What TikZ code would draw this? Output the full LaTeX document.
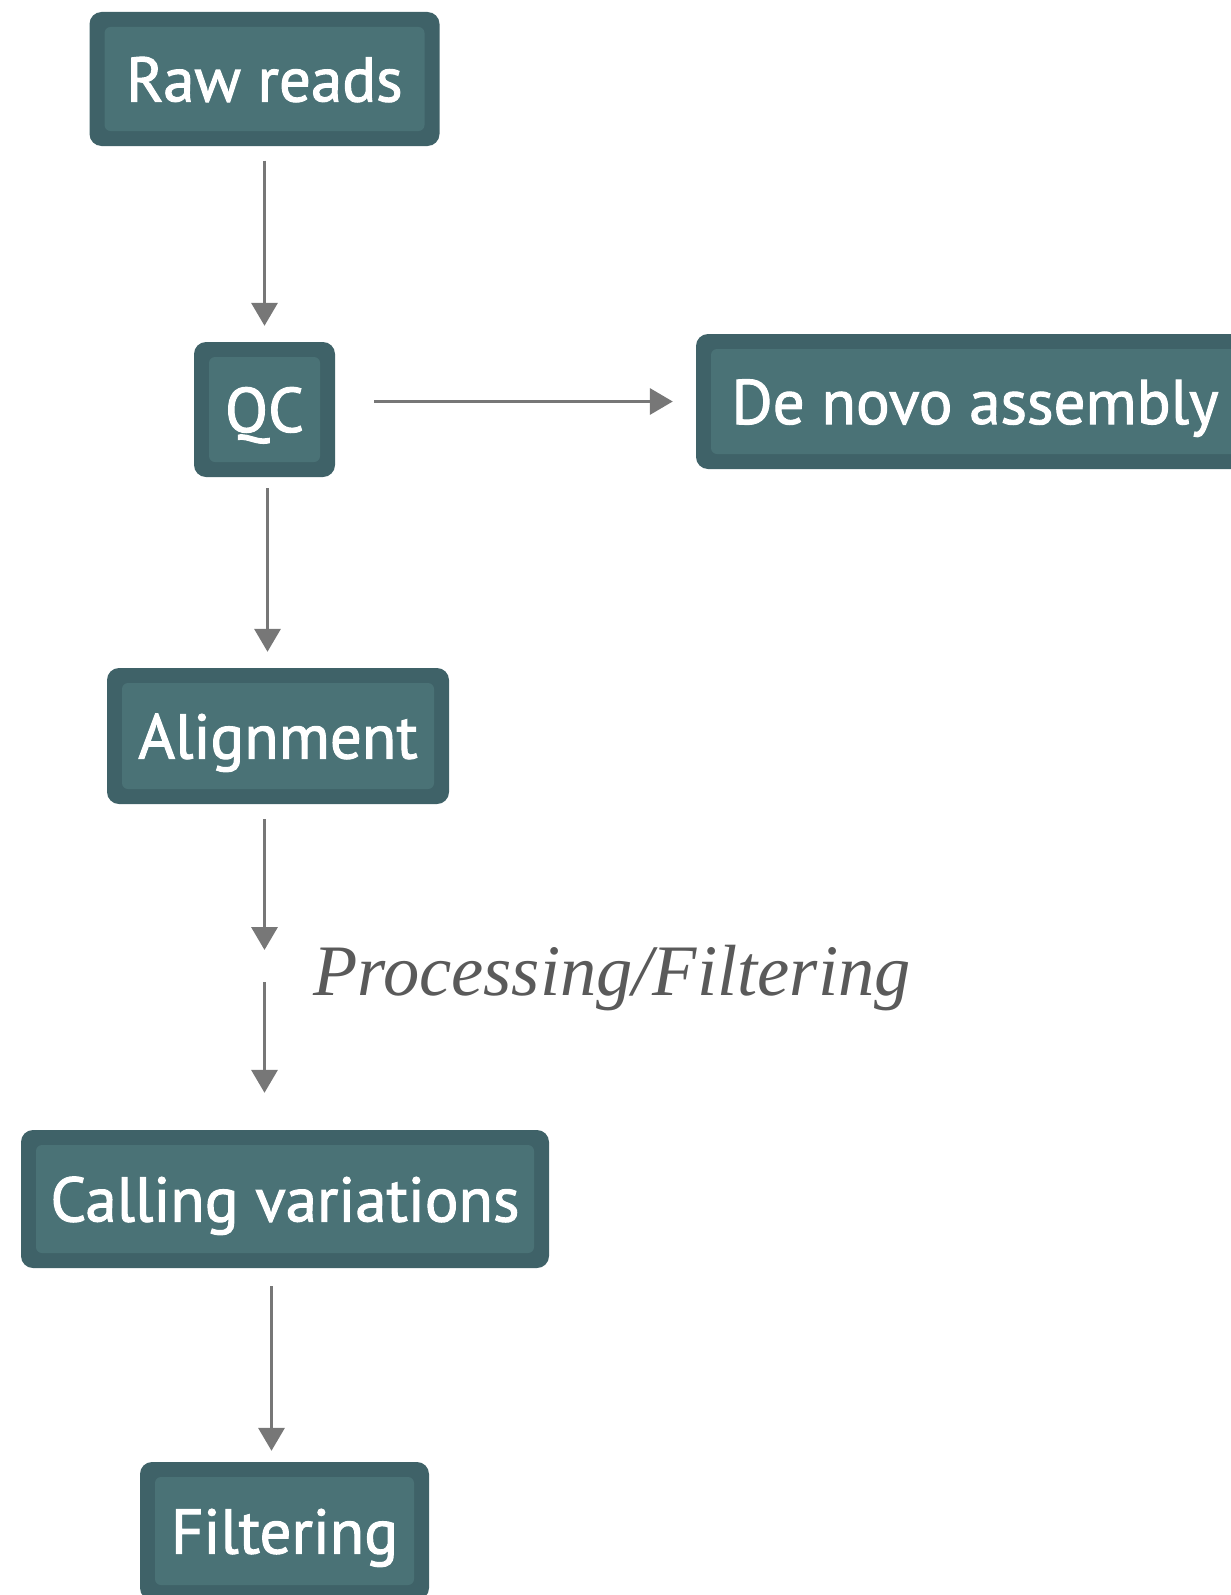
\documentclass[tikz,border=0pt]{standalone}
\usepackage{fontspec}
\newfontfamily\boxfont{PT Sans}[FakeBold=1.6]
\newfontfamily\labelfont{Liberation Serif}
\usetikzlibrary{arrows.meta,calc}
\definecolor{boxout}{HTML}{3F6268}
\definecolor{boxin}{HTML}{4A7276}
\definecolor{arrowgray}{HTML}{777777}
\definecolor{labelgray}{HTML}{5A5A5A}
\begin{document}
\begin{tikzpicture}[x=1pt,y=1pt,
  stepbox/.style={fill=boxout, rounded corners=12pt, inner sep=0pt,
    text=white, font=\boxfont\fontsize{63}{63}\selectfont,
    text height=45pt, text depth=0pt,
    path picture={\fill[boxin, rounded corners=6pt]
      ([shift={(15pt,15pt)}]path picture bounding box.south west) rectangle
      ([shift={(-15pt,-15pt)}]path picture bounding box.north east);}},
  flow/.style={draw=arrowgray, line width=3.5pt,
    -{Triangle[width=26pt,length=23pt]}}
]
\useasboundingbox (0,0) rectangle (1231,-1595);
\node[stepbox, minimum width=350pt, minimum height=134pt] (raw) at (264.5,-79) {Raw reads};
\node[stepbox, minimum width=141pt, minimum height=135pt] (qc) at (264.5,-409.5) {QC};
\node[stepbox, minimum width=558pt, minimum height=135pt] (denovo) at (975,-401.5) {De novo assembly};
\node[stepbox, minimum width=342pt, minimum height=136pt] (align) at (278,-736) {Alignment};
\node[stepbox, minimum width=528pt, minimum height=138pt] (call) at (285,-1199) {Calling variations};
\node[stepbox, minimum width=289pt, minimum height=138pt] (filt) at (284.5,-1531) {Filtering};
\node[anchor=base west, inner sep=0pt, text=labelgray,
  font=\labelfont\itshape\fontsize{72.5}{72.5}\selectfont] (proc) at (313,-995) {Processing/Filtering};
\coordinate (m1) at (264.5,-950);
\coordinate (m2) at (264.5,-982);
\draw[flow, shorten <=14.5pt, shorten >=16pt] (raw.south) -- (raw.south |- qc.north);
\draw[flow, shorten <=39pt, shorten >=23pt] (denovo.west -| qc.east) -- (denovo.west);
\draw[flow, shorten <=11pt, shorten >=16pt] ([xshift=3pt]qc.south) -- ([xshift=3pt]qc.south |- align.north);
\draw[flow, shorten <=15pt] (align.south -| m1) -- (m1);
\draw[flow, shorten >=37pt] (m2) -- (m2 |- call.north);
\draw[flow, shorten <=18pt, shorten >=11pt] ([xshift=7pt]qc.south |- call.south) -- ([xshift=7pt]qc.south |- filt.north);
\end{tikzpicture}
\end{document}
